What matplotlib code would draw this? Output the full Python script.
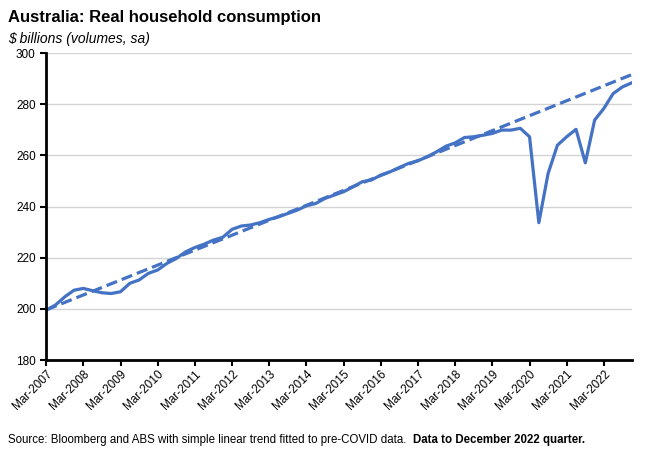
import matplotlib.pyplot as plt
import numpy as np

plt.rcParams['font.family'] = ['Liberation Sans', 'DejaVu Sans']

# quarterly, Mar-2007 .. Dec-2022 ($ billions)
consumption = [199.5, 201.5, 204.7, 207.3, 208.0, 207.1, 206.3, 206.0,
               206.7, 210.0, 211.3, 213.9, 215.2, 217.8, 219.7, 222.3,
               224.0, 225.3, 226.9, 228.0, 231.1, 232.4, 232.8, 233.7,
               235.0, 236.0, 237.3, 238.6, 240.3, 241.2, 243.2, 244.5,
               245.8, 247.7, 249.7, 250.4, 252.3, 253.6, 255.3, 256.9,
               257.9, 259.5, 261.4, 263.6, 264.9, 267.0, 267.3, 267.9,
               268.6, 269.9, 269.9, 270.6, 267.3, 233.7, 253.0, 264.0,
               267.3, 270.2, 257.1, 273.8, 278.4, 284.2, 286.8, 288.4]
trend_ends = [199.6, 291.6]
tick_labels = ['Mar-%d' % yr for yr in range(2007, 2023)]

blue = '#4472C4'

fig = plt.figure(figsize=(6.5, 4.54), dpi=100)
ax = fig.add_axes([0.071, 0.207, 0.901, 0.676])

q = np.arange(len(consumption))
ax.plot(q, consumption, color=blue, lw=2.3, solid_joinstyle='round')
ax.plot([q[0], q[-1]], trend_ends, color=blue, lw=2.3, dashes=(3.5, 1.6))

ax.set_xlim(0, len(consumption) - 1)
ax.set_ylim(180, 300)
ax.set_yticks(range(180, 301, 20))
ax.set_xticks(range(0, len(consumption), 4))
ax.set_xticklabels(tick_labels, rotation=45, ha='right', rotation_mode='anchor')
ax.tick_params(axis='both', labelsize=8.5, length=4, width=1.5, direction='out')
ax.tick_params(axis='x', pad=2)

ax.grid(axis='y', color='#d4d4d4', lw=1)
ax.set_axisbelow(True)
for s in ['top', 'right']:
    ax.spines[s].set_visible(False)
for s in ['left', 'bottom']:
    ax.spines[s].set_linewidth(2)

fig.text(0.012, 0.962, 'Australia: Real household consumption', fontsize=12,
         fontweight='bold', va='center')
fig.text(0.012, 0.915, '$ billions (volumes, sa)', fontsize=10,
         style='italic', va='center')

src = fig.text(0.012, 0.03, 'Source: Bloomberg and ABS with simple linear trend '
               'fitted to pre-COVID data.  ', fontsize=8.3, va='center')
fig.canvas.draw()
bb = src.get_window_extent()
fig.text(bb.x1 / fig.bbox.width, 0.03, 'Data to December 2022 quarter.',
         fontsize=8.3, fontweight='bold', va='center')

fig.savefig('out.png', dpi=100)
